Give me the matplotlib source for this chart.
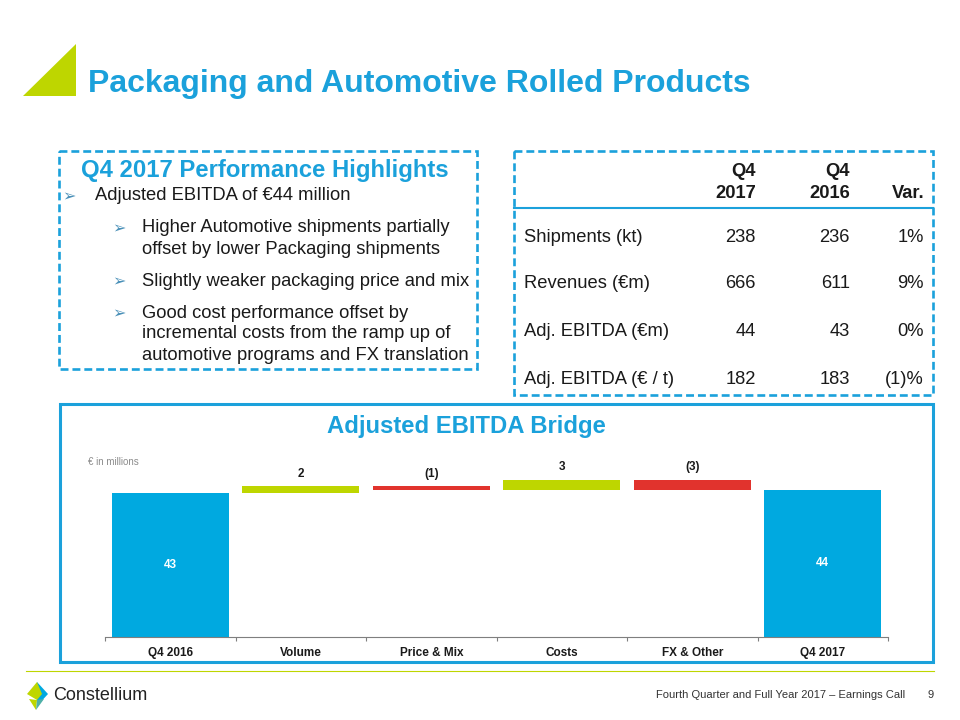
import matplotlib
matplotlib.use("Agg")
import matplotlib.pyplot as plt
from matplotlib.patches import Polygon, Rectangle
import numpy as np

plt.rcParams['font.family'] = ['Liberation Sans', 'DejaVu Sans']

# bridge data
categories = ["Q4 2016", "Volume", "Price & Mix", "Costs", "FX & Other", "Q4 2017"]
values = [43, 2, -1, 3, -3, 44]
value_labels = ["43", "2", "(1)", "3", "(3)", "44"]
is_total = [True, False, False, False, False, True]

# table data
row_labels = ["Shipments (kt)", "Revenues (€m)", "Adj. EBITDA (€m)", "Adj. EBITDA (€ / t)"]
q4_2017 = ["238", "666", "44", "182"]
q4_2016 = ["236", "611", "43", "183"]
variation = ["1%", "9%", "0%", "(1)%"]

# highlights text
bullet_main = "Adjusted EBITDA of €44 million"
sub_bullets = [
    ["Higher Automotive shipments partially", "offset by lower Packaging shipments"],
    ["Slightly weaker packaging price and mix"],
    ["Good cost performance offset by", "incremental costs from the ramp up of",
     "automotive programs and FX translation"],
]

BLUE = "#1BA1DB"
BAR_BLUE = "#00A9E0"
GREEN = "#BED600"
RED = "#E1332D"
DARK = "#1A1A1A"
FS = 13.2

fig = plt.figure(figsize=(9.6, 7.2), dpi=100)
bg = fig.add_axes([0, 0, 1, 1])
bg.set_xlim(0, 960)
bg.set_ylim(720, 0)
bg.axis("off")

# header triangle and title
bg.add_patch(Polygon([(23, 96), (76, 96), (76, 44)], closed=True, color=GREEN, lw=0))
bg.text(88, 84, "Packaging and Automotive Rolled Products", fontsize=23, fontweight="bold",
        color=BLUE, va="center", ha="left")

# boxes
bg.add_patch(Rectangle((59, 151), 418, 218, fill=False, ec=BLUE, lw=1.9, ls=(0, (3, 1.5))))
bg.add_patch(Rectangle((514, 151), 419, 244, fill=False, ec=BLUE, lw=1.9, ls=(0, (3, 1.5))))
bg.add_patch(Rectangle((60, 404), 873, 258, fill=False, ec=BLUE, lw=2.2))

# highlights
bg.text(265, 171, "Q4 2017 Performance Highlights", fontsize=17.2, fontweight="bold",
        color=BLUE, ha="center", va="center")
bg.text(62, 197, "➢", family="DejaVu Sans", fontsize=11.5, color="#4A90B8", va="center")
bg.text(95, 196, bullet_main, fontsize=FS, color=DARK, va="center")
y = 228
for group in sub_bullets:
    bg.text(112, y + 1, "➢", family="DejaVu Sans", fontsize=11.5, color="#4A90B8", va="center")
    for line in group:
        bg.text(142, y, line, fontsize=FS, color=DARK, va="center")
        y += 21
    y += 11

# table
bg.text(756, 172, "Q4", fontsize=FS, fontweight="bold", color=DARK, ha="right", va="center")
bg.text(850, 172, "Q4", fontsize=FS, fontweight="bold", color=DARK, ha="right", va="center")
bg.text(756, 193, "2017", fontsize=FS, fontweight="bold", color=DARK, ha="right", va="center")
bg.text(850, 193, "2016", fontsize=FS, fontweight="bold", color=DARK, ha="right", va="center")
bg.text(924, 193, "Var.", fontsize=FS, fontweight="bold", color=DARK, ha="right", va="center")
bg.plot([514, 933], [208, 208], color=BLUE, lw=1.5)
row_y = [237, 283, 331, 379]
for i, ry in enumerate(row_y):
    bg.text(524, ry, row_labels[i], fontsize=FS, color=DARK, va="center")
    bg.text(756, ry, q4_2017[i], fontsize=FS, color=DARK, ha="right", va="center")
    bg.text(850, ry, q4_2016[i], fontsize=FS, color=DARK, ha="right", va="center")
    bg.text(924, ry, variation[i], fontsize=FS, color=DARK, ha="right", va="center")

# bridge title
bg.text(466, 426, "Adjusted EBITDA Bridge", fontsize=17.2, fontweight="bold",
        color=BLUE, ha="center", va="center")
bg.text(88, 462, "€ in millions", fontsize=7, color="#8C8C8C", va="center")

# footer
bg.plot([26, 934], [671, 671], color=GREEN, lw=0.8)
bg.add_patch(Polygon([(37, 682), (48, 694), (37, 706)], closed=True, color=BAR_BLUE, lw=0))
bg.add_patch(Polygon([(27, 694), (37, 682), (42, 694), (37, 700)], closed=True, color=GREEN, lw=0))
bg.add_patch(Polygon([(29, 699), (37, 700), (36, 710)], closed=True, color=GREEN, lw=0))
bg.add_patch(Polygon([(37, 700), (44, 699), (36, 710)], closed=True, color="#4FB0A8", lw=0))
bg.text(53, 695, "Constellium", fontsize=13, color="#222222", va="center")
bg.text(905, 695, "Fourth Quarter and Full Year 2017 – Earnings Call", fontsize=8,
        color="#333333", ha="right", va="center")
bg.text(931, 695, "9", fontsize=8, color="#333333", ha="center", va="center")

# waterfall chart
ax = fig.add_axes([105 / 960, (720 - 637) / 720, 783 / 960, 167.5 / 720])
ax.set_xlim(-0.5, 5.5)
ax.set_ylim(0, 50)
x = np.arange(len(categories))
running = 0
for i, v in enumerate(values):
    if is_total[i]:
        bottom, height, color = 0, v, BAR_BLUE
        running = v
    else:
        bottom = running if v > 0 else running + v
        height = abs(v)
        color = GREEN if v > 0 else RED
        running += v
    ax.bar(x[i], height, bottom=bottom, width=0.9, color=color, lw=0)
    if is_total[i]:
        ax.text(x[i], height / 2, value_labels[i], ha="center", va="center",
                color="white", fontsize=8.5, fontweight="bold")
    else:
        ax.text(x[i], bottom + height + 2.0, value_labels[i], ha="center", va="bottom",
                color=DARK, fontsize=8.5, fontweight="bold")

for s in ["top", "right", "left"]:
    ax.spines[s].set_visible(False)
ax.spines["bottom"].set_color("#7F7F7F")
ax.spines["bottom"].set_linewidth(0.8)
ax.set_yticks([])
ax.set_xticks(np.arange(-0.5, 6, 1.0))
ax.set_xticklabels([])
ax.tick_params(axis="x", length=3, color="#7F7F7F", width=0.8)
ax.set_xticks(x, minor=True)
ax.set_xticklabels(categories, minor=True, fontsize=8.5, fontweight="bold", color=DARK)
ax.tick_params(axis="x", which="minor", length=0, pad=7)
ax.patch.set_alpha(0)

fig.savefig("out.png", dpi=100)
